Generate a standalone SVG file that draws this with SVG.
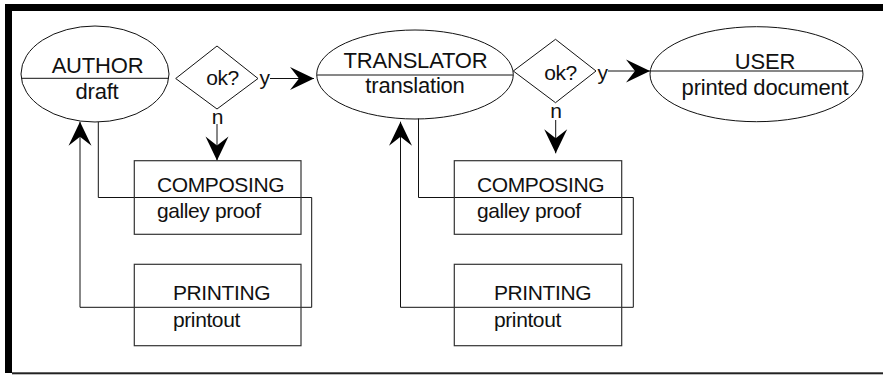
<svg xmlns="http://www.w3.org/2000/svg" width="883" height="375" viewBox="0 0 883 375">
  <style>
    .shape { fill: none; stroke: #111; stroke-width: 1; }
    .box { fill: none; stroke: #333; stroke-width: 1.2; }
    .wire { fill: none; stroke: #111; stroke-width: 1; }
    text { font-family: "Liberation Sans", Arial, sans-serif; fill: #111; }
    .big { font-size: 22px; letter-spacing: -0.2px; text-anchor: middle; }
    .mid { font-size: 21px; letter-spacing: -0.4px; }
    .ctr { text-anchor: middle; }
  </style>
  <defs>
    <marker id="head" markerUnits="userSpaceOnUse" viewBox="-25 -13 26 26" markerWidth="26" markerHeight="26" refX="0" refY="0" orient="auto">
      <path d="M0,0 L-24,-11.5 L-15,0 L-24,11.5 Z" fill="#000"/>
    </marker>
  </defs>

  <!-- frame -->
  <rect x="5" y="4" width="878" height="7" fill="#000"/>
  <rect x="5" y="4" width="7" height="369" fill="#000"/>
  <rect x="12" y="372.3" width="871" height="2" fill="#222"/>

  <!-- connectors -->
  <g id="connectors">
    <path class="wire" d="M270,78.5 H314" marker-end="url(#head)"/>
    <path class="wire" d="M608,71 H650" marker-end="url(#head)"/>
    <path class="wire" d="M217,124 V160.5" marker-end="url(#head)"/>
    <path class="wire" d="M555.7,120 V153.3" marker-end="url(#head)"/>
    <path class="wire" d="M98.3,122 V197.5 H311.7 V307.3 H80 V121.7" marker-end="url(#head)"/>
    <path class="wire" d="M418.5,118.5 V197.5 H633.3 V307.3 H400.5 V121.7" marker-end="url(#head)"/>
    <text class="mid" x="259.5" y="85">y</text>
    <text class="mid ctr" x="217.5" y="124">n</text>
    <text class="mid" x="597.5" y="80">y</text>
    <text class="mid ctr" x="556" y="118.3">n</text>
  </g>

  <!-- author -->
  <g id="author">
    <ellipse class="shape" cx="95" cy="74" rx="74" ry="48"/>
    <line class="shape" x1="21.4" y1="78.3" x2="168.6" y2="78.3"/>
    <text class="big" x="97.5" y="72.7">AUTHOR</text>
    <text class="big" x="97" y="99">draft</text>
  </g>

  <!-- first check -->
  <g id="check1">
    <polygon class="shape" points="175.7,78.5 217,46 258,78.5 217,109"/>
    <text class="mid ctr" x="222.5" y="85">ok?</text>
  </g>

  <!-- composing / printing, first loop -->
  <g id="composing1">
    <rect class="box" x="134.3" y="160.7" width="166.7" height="73.6"/>
    <text class="mid" x="157" y="192">COMPOSING</text>
    <text class="mid" x="157" y="218.3">galley proof</text>
  </g>
  <g id="printing1">
    <rect class="box" x="134.3" y="264.3" width="166.7" height="81.4"/>
    <text class="mid" x="173" y="300">PRINTING</text>
    <text class="mid" x="173" y="326.7">printout</text>
  </g>

  <!-- translator -->
  <g id="translator">
    <ellipse class="shape" cx="415" cy="74.5" rx="98.3" ry="44.5"/>
    <line class="shape" x1="316.8" y1="75" x2="513.2" y2="75"/>
    <text class="big" x="415.5" y="68.3">TRANSLATOR</text>
    <text class="big" x="415" y="93.3">translation</text>
  </g>

  <!-- second check -->
  <g id="check2">
    <polygon class="shape" points="513.3,71 555.5,39.3 596,71 555.5,102.7"/>
    <text class="mid ctr" x="560.5" y="80">ok?</text>
  </g>

  <!-- composing / printing, second loop -->
  <g id="composing2">
    <rect class="box" x="454.3" y="160.7" width="167.4" height="73.6"/>
    <text class="mid" x="477" y="192">COMPOSING</text>
    <text class="mid" x="477" y="218.3">galley proof</text>
  </g>
  <g id="printing2">
    <rect class="box" x="454.3" y="264.3" width="167.4" height="81.4"/>
    <text class="mid" x="494" y="300">PRINTING</text>
    <text class="mid" x="494" y="326.7">printout</text>
  </g>

  <!-- user -->
  <g id="user">
    <ellipse class="shape" cx="756.5" cy="74.2" rx="106.5" ry="47.5"/>
    <line class="shape" x1="650.5" y1="71" x2="862.5" y2="71"/>
    <text class="big" x="765" y="69">USER</text>
    <text class="big" x="765" y="95">printed document</text>
  </g>
</svg>
